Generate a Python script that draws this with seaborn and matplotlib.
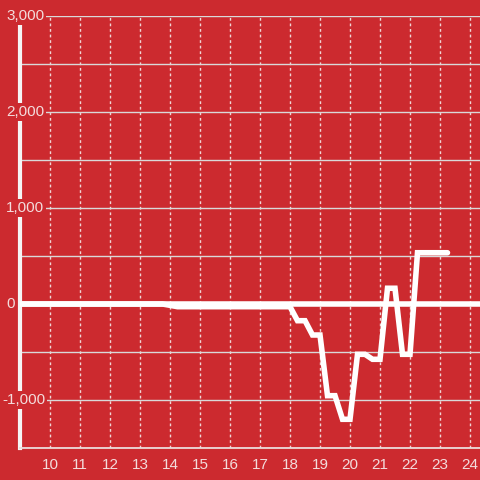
import matplotlib
matplotlib.use("Agg")
import matplotlib.pyplot as plt
import seaborn as sns
import pandas as pd

sns.set_theme(style="white")
plt.rcParams['font.family'] = ['Liberation Sans', 'DejaVu Sans']

# colours
bg_red = "#CC2A2F"
grid_col = "#D9D9D9"
text_col = "#F3DCDC"

# data: hour of day vs value
hours = [9.0, 13.75, 14.25, 18.0, 18.25, 18.5, 18.75, 19.0, 19.25, 19.5, 19.75,
         20.0, 20.25, 20.5, 20.75, 21.0, 21.25, 21.5, 21.75, 22.0, 22.25, 23.25]
values = [0, 0, -28, -28, -174, -174, -323, -323, -955, -955, -1201,
          -1201, -524, -524, -576, -576, 164, 164, -524, -524, 534, 534]

x_ticks = list(range(10, 25))
y_major = [-1000, 0, 1000, 2000, 3000]
y_minor = [-1500, -500, 500, 1500, 2500]

df = pd.DataFrame({"hour": hours, "value": values})

fig = plt.figure(figsize=(4.8, 4.8), dpi=100, facecolor=bg_red)
ax = fig.add_axes([20 / 480, 32 / 480, 460 / 480, 432 / 480])
ax.set_facecolor(bg_red)

ax.set_xlim(9.0, 9.0 + 460 / 30)
ax.set_ylim(-1500, 3000)

# grid
ax.set_xticks(x_ticks)
ax.set_yticks(y_major)
ax.set_yticks(y_minor, minor=True)
ax.grid(axis="y", which="both", color=grid_col, linewidth=1, linestyle="-")
ax.grid(axis="x", which="major", color="#F0D6D6", linewidth=1, linestyle=(0, (2, 2)))
ax.set_axisbelow(True)

# zero line
ax.axhline(0, color="white", linewidth=4, zorder=2)

sns.lineplot(data=df, x="hour", y="value", color="white", linewidth=4,
             estimator=None, ax=ax, zorder=3)
ax.lines[-1].set_solid_joinstyle("miter")

for s in ["top", "right"]:
    ax.spines[s].set_visible(False)
ax.spines["left"].set_color("#F5F5F5")
ax.spines["left"].set_linewidth(3)
ax.spines["bottom"].set_color("#EBDADA")
ax.spines["bottom"].set_linewidth(1.3)

ax.set_xlabel("")
ax.set_ylabel("")
ax.set_xticklabels([str(t) for t in x_ticks])
ax.set_yticklabels([])
ax.tick_params(axis="x", length=0, pad=7, labelsize=11, labelcolor=text_col)
ax.tick_params(axis="y", which="both", length=0)

# y labels sit over the spine on a red box
for v in y_major:
    left_px = 2 if v < 0 else 6
    ax.text((left_px - 20) / 460, v, f"{v:,}", transform=ax.get_yaxis_transform(),
            ha="left", va="center", fontsize=11, color=text_col, zorder=6,
            clip_on=False,
            bbox=dict(facecolor=bg_red, edgecolor="none", pad=1.5))

fig.savefig("out.png", dpi=100, facecolor=bg_red)
